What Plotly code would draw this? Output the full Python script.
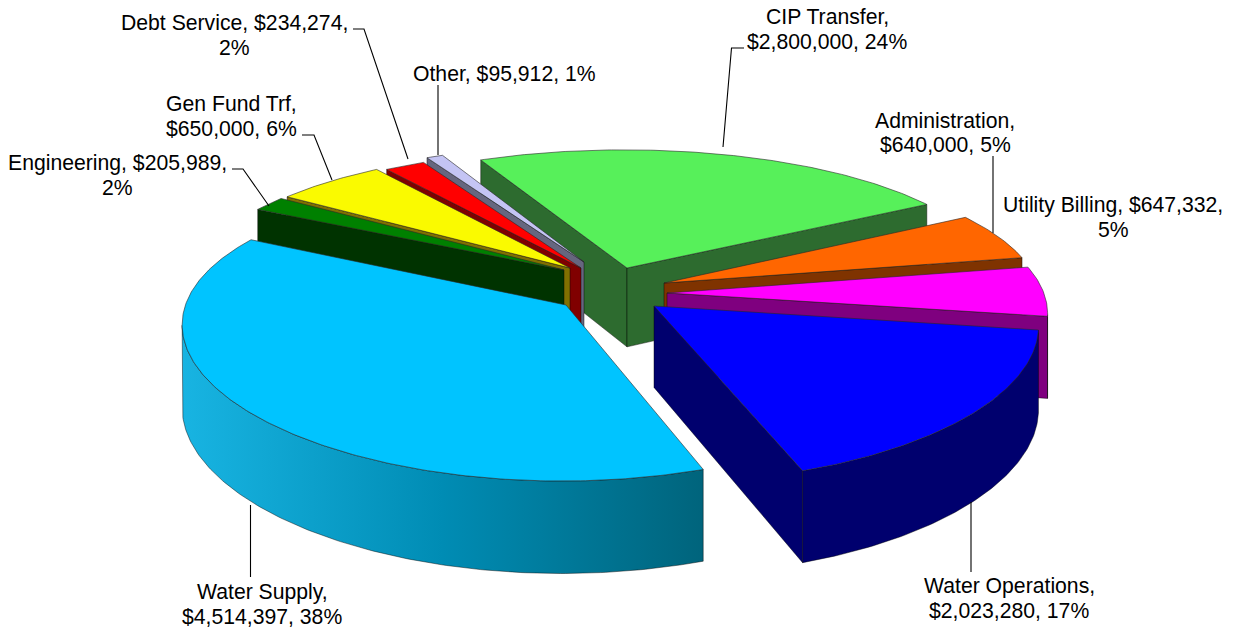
import math
import plotly.graph_objects as go

# ---- data ----
categories = ["CIP Transfer", "Administration", "Utility Billing", "Water Operations",
              "Water Supply", "Engineering", "Gen Fund Trf", "Debt Service", "Other"]
values = [2800000, 640000, 647332, 2023280, 4514397, 205989, 650000, 234274, 95912]
top_colors = ["#57F05A", "#FF6600", "#FF00FF", "#0000FF", "#00C4FF", "#008000", "#FAFA00", "#FF0000", "#C4C4F4"]
side_colors = ["#2D6B2F", "#7F3300", "#7F007F", "#00006E", "#0088AA", "#003300", "#807000", "#800000", "#66667F"]

# ---- 3-D pie geometry (camera and per-slice explosion) ----
X0, Y0 = 600, 300
RADIUS = 379
TILT = 0.386
PERSP = 0.12
PERSP_Y = 0.159
DEPTH = 81
FIRST_ANGLE = -25.5
apex_px = [(627, 268), (664, 283), (667, 293), (654, 306), (566, 305),
           (564, 270), (570, 268), (581, 268), (584, 262)]
draw_order = [0, 1, 2, 8, 7, 6, 5, 4, 3]

# label: text lines are broken where the chart breaks them
label_break = [1, 1, 2, 1, 1, 2, 1, 2, 9]
label_pos = [(827, 29), (945, 132.5), (1113, 217.5), (1009, 598.5), (262, 604.5),
             (117.5, 175.5), (231, 116), (234, 35), (504, 73)]
LINE_GAP = 24.6
leaders = [
    [(744, 48), (731.5, 48), (723, 147)],
    [(993, 156), (993, 233)],
    [(971, 502), (971, 572)],
    [(250.5, 505), (250.5, 577)],
    [(232, 169), (243, 169), (269, 206)],
    [(302, 135), (314, 135), (332, 180)],
    [(353, 29), (364, 29), (408, 159)],
    [(438, 85), (438, 155)],
]


def project(wx, wy, z=0.0):
    s = 1.0 / (1.0 + PERSP * wy)
    sy = 1.0 / (1.0 + PERSP_Y * wy)
    return X0 + RADIUS * wx * s, Y0 - RADIUS * TILT * wy * sy + DEPTH * z * s


def unproject(px, py):
    a = Y0 - py
    wy = a / (RADIUS * TILT - PERSP_Y * a)
    s = 1.0 / (1.0 + PERSP * wy)
    return (px - X0) / (RADIUS * s), wy


def poly(fig, pts, fill, line="rgba(40,40,40,0.75)", width=0.8, gradient=None):
    xs = [p[0] for p in pts] + [pts[0][0]]
    ys = [p[1] for p in pts] + [pts[0][1]]
    kw = dict(x=xs, y=ys, mode="lines", fill="toself", hoverinfo="skip", showlegend=False,
              line=dict(color=line, width=width))
    if gradient:
        kw["fillgradient"] = dict(type="horizontal", colorscale=gradient)
    else:
        kw["fillcolor"] = fill
    fig.add_trace(go.Scatter(**kw))


def cross(a, b):
    return a[0] * b[1] - a[1] * b[0]


total = sum(values)
start = [FIRST_ANGLE]
for v in values:
    start.append(start[-1] + v / total * 360)

fig = go.Figure()
for i in draw_order:
    ax, ay = unproject(*apex_px[i])
    a0, a1 = start[i], start[i + 1]
    n = max(3, int((a1 - a0) * 1.5))
    world = []
    for k in range(n + 1):
        t = math.radians(a0 + (a1 - a0) * k / n)
        world.append((ax + math.sin(t), ay + math.cos(t)))
    top_arc = [project(w[0], w[1]) for w in world]
    low_arc = [project(w[0], w[1], 1) for w in world]
    apex_t = project(ax, ay)
    apex_b = project(ax, ay, 1)
    side = side_colors[i]
    mid = top_arc[n // 2]
    mid_v = (mid[0] - apex_t[0], mid[1] - apex_t[1])

    # radial faces that turn towards the viewer
    for end_t, end_b in ((top_arc[0], low_arc[0]), (top_arc[-1], low_arc[-1])):
        e = (end_t[0] - apex_t[0], end_t[1] - apex_t[1])
        if cross(e, (0, 1)) * cross(e, mid_v) < 0:
            poly(fig, [apex_t, end_t, end_b, apex_b], side, line="rgba(0,0,0,0.55)")

    # outer wall: only the part of the rim that runs right-to-left faces the viewer
    front = [k for k in range(n) if top_arc[k + 1][0] < top_arc[k][0]]
    if front:
        k0, k1 = front[0], front[-1] + 1
        grad = None
        if categories[i] == "Water Supply":
            grad = [[0, "#18B4E2"], [0.5, "#008CB4"], [1, "#00647C"]]
        poly(fig, top_arc[k0:k1 + 1] + low_arc[k0:k1 + 1][::-1], side,
             line="rgba(0,0,0,0.55)", gradient=grad)
    poly(fig, [apex_t] + top_arc, top_colors[i])

for path in leaders:
    fig.add_trace(go.Scatter(x=[p[0] for p in path], y=[p[1] for p in path], mode="lines",
                             hoverinfo="skip", showlegend=False,
                             line=dict(color="black", width=1.1)))

for i, cat in enumerate(categories):
    pct = round(values[i] / total * 100)
    parts = [f"{cat},", f"${values[i]:,},", f"{pct}%"]
    b = label_break[i]
    lines = [" ".join(parts[:b])] + ([" ".join(parts[b:])] if b < 3 else [])
    for j, line in enumerate(lines):
        y = label_pos[i][1] + (j - (len(lines) - 1) / 2) * LINE_GAP
        fig.add_annotation(x=label_pos[i][0], y=y, text=line, showarrow=False,
                           xanchor="center", yanchor="middle", align="center",
                           font=dict(family="Liberation Sans, Arial", size=21.2, color="black"))

fig.update_xaxes(range=[0, 1237], visible=False, fixedrange=True)
fig.update_yaxes(range=[628, 0], visible=False, fixedrange=True)
fig.update_layout(width=1237, height=628, margin=dict(l=0, r=0, t=0, b=0),
                  paper_bgcolor="white", plot_bgcolor="white", showlegend=False)
fig.write_html("out.html", post_script="document.body.style.margin='0'", config={"displayModeBar": False})
